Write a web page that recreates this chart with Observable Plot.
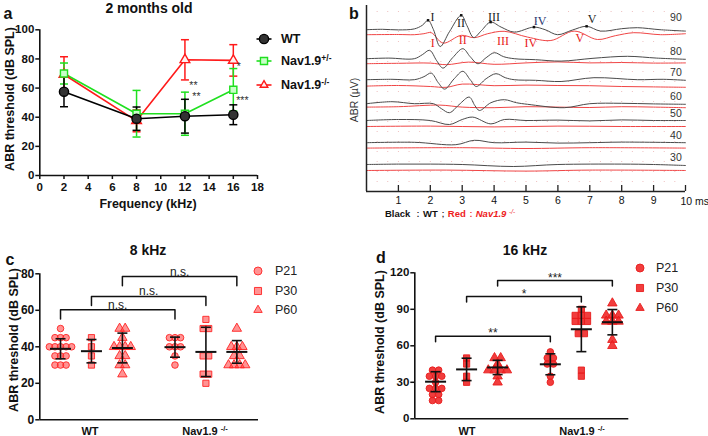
<!DOCTYPE html>
<html>
<head>
<meta charset="utf-8">
<script src="https://cdn.jsdelivr.net/npm/d3@7"></script>
<script src="https://cdn.jsdelivr.net/npm/@observablehq/plot@0.6"></script>
<style>
  html,body{margin:0;padding:0;background:#fff;}
  #fig{position:relative;width:708px;height:436px;overflow:hidden;background:#fff;font-family:"Liberation Sans",Arial,sans-serif;color:#111;}
  #fig svg{position:absolute;overflow:visible;}
  .t{position:absolute;white-space:nowrap;line-height:1;transform:translate(-50%,-50%);}
  .t.l{transform:translate(0,-50%);}
  .t.r{transform:translate(-50%,-50%) rotate(-90deg);}
  sup{font-size:0.68em;vertical-align:0.5em;line-height:0;}
</style>
</head>
<body>
<div id="fig"></div>
<script>
// ================= Panel a : 2 months old =================
const freqA = [2, 8, 12, 16];
const wtMeanA = [57.5, 39, 40.7, 41.7];
const wtSdA = [10.3, 8, 11.6, 6.8];
const hetMeanA = [70, 42.4, 42.4, 58.8];
const hetSdA = [7.2, 16, 14.8, 14.6];
const koMeanA = [69.3, 37.5, 79.4, 79];
const koSdA = [12.2, 7.5, 13.8, 10.8];
const starFreqA = [12.7, 12.95, 16.45, 16.75];
const starValA = [62, 54, 74.5, 51.5];
const starTextA = ["**", "**", "*", "***"];
const xTicksA = [0, 2, 4, 6, 8, 10, 12, 14, 16, 18];
const yTicksA = [0, 20, 40, 60, 80, 100];

// ================= Panel b : ABR waveforms =================
const levelsB = [90, 80, 70, 60, 50, 40, 30];
const wtOffsetB = [8.09, 6.64, 5.59, 4.39, 3.55, 2.44, 1.35];
const koOffsetB = [7.84, 6.39, 5.27, 4.22, 3.25, 2.17, 1.05];
// [ms, µV deflection]
const wtWavesB = [
  [[0,0],[0.5,0.02],[1,-0.01],[1.5,0.04],[1.75,0.22],[1.93,0.47],[2.1,0.0],[2.31,-0.84],[2.6,-0.1],[2.97,0.72],[3.15,0.2],[3.36,-0.39],[3.6,-0.05],[3.89,0.38],[4.22,0.13],[4.63,-0.12],[5.25,0.13],[5.6,0.0],[5.99,-0.25],[6.45,-0.02],[6.9,0.17],[7.34,-0.07],[8.0,0.05],[8.49,0.10],[9.2,0],[10,-0.07]],
  [[0,0],[0.7,0.03],[1.5,0],[1.75,0.2],[1.98,0.42],[2.2,-0.1],[2.4,-0.47],[2.7,0.05],[3.02,0.5],[3.25,0.1],[3.49,-0.25],[3.75,0.05],[4.01,0.3],[4.3,0.1],[4.63,0],[5.3,-0.05],[6.1,-0.12],[7.1,0.02],[8.18,0.12],[9.1,0.03],[10,-0.03]],
  [[0,0],[0.8,0.02],[1.5,0],[1.8,0.15],[2.03,0.33],[2.25,-0.15],[2.45,-0.47],[2.75,0.05],[3.02,0.42],[3.25,0.0],[3.44,-0.34],[3.75,0.05],[4.06,0.3],[4.35,0.1],[4.63,0],[5.3,-0.03],[6.1,-0.09],[7.13,0.1],[8.5,0],[9.3,0.02],[10,-0.03]],
  [[0,0],[0.8,0.1],[1.5,0],[2.1,0],[2.35,-0.25],[2.6,-0.45],[2.9,-0.05],[3.22,0.33],[3.4,-0.1],[3.54,-0.34],[3.9,0.05],[4.32,0.2],[4.7,0.05],[5.05,-0.03],[6.2,-0.2],[7,0],[8,0.02],[9,-0.01],[10,-0.03]],
  [[0,0],[1,0.05],[2,0],[2.6,-0.2],[3.0,0.05],[3.33,0.17],[3.9,-0.17],[4.32,0.05],[5,0],[6,0.02],[7,-0.02],[8,0.03],[9,0.0],[10,0]],
  [[0,0],[1.5,0.02],[2.8,-0.1],[3.38,0.12],[4,0],[5,0.03],[6,-0.02],[7,0.0],[8,0.03],[10,0]],
  [[0,0],[1,0.02],[2,0.02],[3,0],[4.6,-0.1],[6,0],[8,0.02],[9,0],[10,-0.05]]
];
const koWavesB = [
  [[0,0],[1,0.01],[1.5,0],[1.8,0.05],[2.03,0.1],[2.4,-0.42],[2.97,-0.03],[3.38,-0.15],[3.8,0.05],[4.32,0.17],[5.05,-0.12],[5.78,-0.29],[6.51,0.18],[7.24,-0.24],[7.8,-0.05],[8.38,0.10],[9.22,0],[10,0.05]],
  [[0,0],[1,0.02],[2,0.03],[2.5,-0.05],[3.2,0.08],[4,-0.03],[5,0.04],[6,0.09],[7,0.04],[8,0.06],[9,0.03],[10,0.04]],
  [[0,0],[1,0.03],[2,-0.02],[2.5,-0.06],[3,0.1],[4,0.02],[5,0.05],[6,0.03],[7,0.02],[8,-0.02],[9,-0.04],[10,-0.06]],
  [[0,0],[1,0.02],[2.3,0.1],[3,0],[4,-0.03],[5,0.02],[6,0],[7,-0.02],[8,0.02],[9,0],[10,-0.03]],
  [[0,0],[2,0.02],[4,-0.02],[6,0.02],[8,0],[10,0]],
  [[0,0],[3,0.02],[5,-0.02],[7,0.02],[10,0]],
  [[0,0],[2.5,0.02],[5,-0.03],[7,0.02],[10,0]]
];
const peakTimesB = [1.93, 2.97, 3.89, 5.25, 6.9];
const romanB = ["I", "II", "III", "IV", "V"];
const romanWtTB = [2.07, 2.96, 4.0, 5.44, 7.07];
const romanWtVB = [8.72, 8.4, 8.7, 8.5, 8.6];
const romanKoTB = [2.08, 3.02, 4.28, 5.15, 6.69];
const romanKoVB = [7.4, 7.55, 7.5, 7.4, 7.65];
const xTicksB = [1, 2, 3, 4, 5, 6, 7, 8, 9, 10];

// ================= Panels c / d : scatter =================
const groupsCD = ["WT P21", "WT P30", "WT P60", "Nav1.9-/- P21", "Nav1.9-/- P30", "Nav1.9-/- P60"];
const groupPos = [1, 2, 3, 4.7, 5.7, 6.7];
const c8Values = [
  [50,45,45,45,40,40,40,40,40,35,35,35,30,30,30],
  [45,40,35,30],
  [50,50,45,40,40,40,40,35,35,30,30,25],
  [45,45,45,40,40,40,35,30],
  [55,50,50,35,35,25,25,20],
  [50,40,40,40,35,35,30,30,30,30]
];
const c8Mean = [38.9, 37.6, 39.35, 39.8, 37.2, 37.2];
const c8Sd = [5.5, 6.4, 8.15, 5.5, 13.5, 6.2];
const c8BrFrom = [0, 1, 2];
const c8BrTo = [3, 4, 5];
const c8BrTop = [60.3, 67.6, 78.5];
const c8BrText = ["n.s.", "n.s.", "n.s."];
const c8Ticks = [0, 20, 40, 60, 80];

const d16Values = [
  [40,40,35,35,35,30,25,25,25,20,20,15,15],
  [50,45,35,30],
  [50,50,45,40,40,40,40,35,30],
  [55,50,50,45,45,35,30],
  [90,85,85,85,80,80,80,70,70,40,35],
  [95,85,85,85,80,80,80,65,60]
];
const d16Mean = [30.5, 40.6, 42.2, 44.8, 73.6, 79.4];
const d16Sd = [8.2, 9.2, 5.85, 8.6, 18.4, 10.4];
const d16BrFrom = [0, 1, 2];
const d16BrTo = [3, 4, 5];
const d16BrTop = [67.9, 100.5, 113.6];
const d16BrText = ["**", "*", "***"];
const d16Ticks = [0, 30, 60, 90, 120];

const legendCD = ["P21", "P30", "P60"];

// ================= helpers =================
const fig = document.getElementById("fig");
const FONT = '"Liberation Sans", Arial, sans-serif';
function put(svg, left, top) {
  svg.style.left = left + "px"; svg.style.top = top + "px";
  fig.appendChild(svg); return svg;
}
function txt(html, x, y, css = {}, cls = "") {
  const d = document.createElement("div");
  d.className = "t " + cls;
  d.innerHTML = html;
  d.style.left = x + "px"; d.style.top = y + "px";
  Object.assign(d.style, css);
  fig.appendChild(d); return d;
}
const hline = {draw(ctx, size) { const r = Math.sqrt(size / Math.PI); ctx.moveTo(-r, 0); ctx.lineTo(r, 0); }};
const d3Sym = {circle: d3.symbolCircle, square: d3.symbolSquare, triangle: d3.symbolTriangle2 || d3.symbolTriangle};
function icon(cx, cy, type, r, st, lineHalf = 0) {
  const w = 32, h = 18;
  const svg = d3.create("svg").attr("width", w).attr("height", h).attr("viewBox", `0 0 ${w} ${h}`);
  if (lineHalf) svg.append("line").attr("x1", w/2 - lineHalf).attr("x2", w/2 + lineHalf)
    .attr("y1", h/2).attr("y2", h/2).attr("stroke", st.stroke).attr("stroke-width", 1.6);
  svg.append("path").attr("d", d3.symbol(d3Sym[type], Math.PI * r * r)())
    .attr("transform", `translate(${w/2},${h/2})`)
    .attr("fill", st.fill).attr("fill-opacity", st.fo ?? 1)
    .attr("stroke", st.stroke).attr("stroke-width", st.sw ?? 1);
  return put(svg.node(), cx - w/2, cy - h/2);
}

// ================= Panel a =================
const seriesA = [
  {key: "ko",  mean: koMeanA,  sd: koSdA,  stroke: "#ff1a1a", fill: "#fff0f0", symbol: "triangle", r: 3.6},
  {key: "het", mean: hetMeanA, sd: hetSdA, stroke: "#1fe01f", fill: "#c8ffc8", symbol: "square", r: 4.0},
  {key: "wt",  mean: wtMeanA,  sd: wtSdA,  stroke: "#000000", fill: "#333333", symbol: "circle", r: 4.6}
];
const marksA = [];
for (const s of seriesA) {
  const rows = freqA.map((f, i) => ({f, m: s.mean[i], lo: s.mean[i] - s.sd[i], hi: s.mean[i] + s.sd[i]}));
  marksA.push(
    Plot.line(rows, {x: "f", y: "m", stroke: s.stroke, strokeWidth: 1.6}),
    Plot.ruleX(rows, {x: "f", y1: "lo", y2: "hi", stroke: s.stroke, strokeWidth: 1.5}),
    Plot.dot(rows, {x: "f", y: "hi", symbol: hline, r: 4, stroke: s.stroke, fill: "none", strokeWidth: 1.5}),
    Plot.dot(rows, {x: "f", y: "lo", symbol: hline, r: 4, stroke: s.stroke, fill: "none", strokeWidth: 1.5})
  );
}
for (const s of seriesA) {
  const rows = freqA.map((f, i) => ({f, m: s.mean[i]}));
  marksA.push(Plot.dot(rows, {x: "f", y: "m", symbol: s.symbol, r: s.r, fill: s.fill, stroke: s.stroke, strokeWidth: 1.4}));
}
const starsA = starFreqA.map((f, i) => ({f, v: starValA[i], t: starTextA[i]}));
const plotA = Plot.plot({
  width: 260, height: 210, marginLeft: 39.3, marginRight: 3, marginTop: 29.3, marginBottom: 35,
  x: {domain: [0, 18]}, y: {domain: [0, 100]},
  style: {fontFamily: FONT, fontSize: "11.5px", fontWeight: "bold", color: "#111", background: "transparent", overflow: "visible"},
  marks: [
    Plot.axisX({ticks: xTicksA, tickSize: 4, tickPadding: 3, label: null, strokeWidth: 1.5}),
    Plot.axisY({ticks: yTicksA, tickSize: 4, tickPadding: 1.5, label: null, strokeWidth: 1.5}),
    Plot.ruleX([0], {strokeWidth: 1.6}),
    Plot.ruleY([0], {strokeWidth: 1.6}),
    ...marksA,
    Plot.text(starsA, {x: "f", y: "v", text: "t", fill: "#333", fontSize: 10.5, fontWeight: "normal"})
  ]
});
put(plotA, 0, 0);

txt("a", 8, 14, {fontSize: "16px", fontWeight: "bold"});
txt("2 months old", 149, 8, {fontSize: "14px", fontWeight: "bold"});
txt("ABR threshold (dB SPL)", 10, 99, {fontSize: "12.5px", fontWeight: "bold"}, "r");
txt("Frequency (kHz)", 148, 204, {fontSize: "12.5px", fontWeight: "bold"});
// legend a
const legA = [
  {label: "WT", s: seriesA[2], y: 39},
  {label: "Nav1.9<sup>+/-</sup>", s: seriesA[1], y: 61},
  {label: "Nav1.9<sup>-/-</sup>", s: seriesA[0], y: 85}
];
for (const l of legA) {
  icon(264.2, l.y, l.s.symbol, l.s.r, {fill: l.s.fill, stroke: l.s.stroke, sw: 1.4}, 7.5);
  txt(l.label, 281, l.y, {fontSize: "12.5px", fontWeight: "bold"}, "l");
}

// ================= Panel b =================
const traceRows = [];
levelsB.forEach((lv, i) => {
  wtWavesB[i].forEach(([t, v]) => traceRows.push({id: "wt" + lv, g: "wt", t, y: wtOffsetB[i] + v}));
  koWavesB[i].forEach(([t, v]) => traceRows.push({id: "ko" + lv, g: "ko", t, y: koOffsetB[i] + v}));
});
const peaksB = peakTimesB.map(t => {
  const k = wtWavesB[0].find(d => d[0] === t);
  return {t, y: wtOffsetB[0] + k[1]};
});
const romanWt = romanB.map((s, i) => ({s, t: romanWtTB[i], y: romanWtVB[i]}));
const romanKo = romanB.map((s, i) => ({s, t: romanKoTB[i], y: romanKoVB[i]}));
const levelLab = levelsB.map((lv, i) => ({lv, y: wtOffsetB[i]}));
const gridB = d3.cross(d3.range(1/3, 10, 1/3), d3.range(0.5, 9.3, 0.5)).map(([t, y]) => ({t, y}));
const plotB = Plot.plot({
  width: 348, height: 210, marginLeft: 6, marginRight: 23, marginTop: 5, marginBottom: 19,
  x: {domain: [0, 10]}, y: {domain: [0, 9.3], axis: null},
  style: {fontFamily: FONT, fontSize: "10.5px", color: "#111", background: "transparent", overflow: "visible"},
  marks: [
    Plot.dot(gridB, {x: "t", y: "y", r: 0.55, fill: "#e6a0a0", fillOpacity: 0.8}),
    Plot.line(traceRows.filter(d => d.g === "ko"), {x: "t", y: "y", z: "id", stroke: "#f04545", strokeWidth: 1, curve: "catmull-rom"}),
    Plot.line(traceRows.filter(d => d.g === "wt"), {x: "t", y: "y", z: "id", stroke: "#4a4a4a", strokeWidth: 1, curve: "catmull-rom"}),
    Plot.dot(peaksB, {x: "t", y: "y", symbol: "square", r: 1.4, fill: "#111"}),
    Plot.text(romanWt, {x: "t", y: "y", text: "s", fill: (d) => d.s === "IV" ? "#2a3470" : "#222", fontFamily: '"Liberation Serif", "DejaVu Serif", serif', fontSize: 12}),
    Plot.text(romanKo, {x: "t", y: "y", text: "s", fill: "#e82020", fontFamily: '"Liberation Serif", "DejaVu Serif", serif', fontSize: 12}),
    Plot.text(levelLab.slice(0, 1), {x: 9.7, y: "y", text: "lv", dy: -12, fontSize: 10.5, fill: "#333"}),
    Plot.text(levelLab.slice(1), {x: 9.7, y: "y", text: "lv", dy: -7, fontSize: 10.5, fill: "#333"}),
    Plot.ruleX([0], {stroke: "#222", strokeWidth: 1.5}),
    Plot.ruleY([0], {stroke: "#222", strokeWidth: 1.5}),
    Plot.ruleX(xTicksB, {x: (d) => d, y1: 0, y2: 0.3, stroke: "#222", strokeWidth: 1.3}),
    Plot.axisX({ticks: xTicksB.slice(0, -1), tickSize: 0, tickPadding: 5, label: null}),
    Plot.text(xTicksB.slice(-1), {x: (d) => d, y: 0, dy: 10, dx: -5, text: (d) => d + " ms", textAnchor: "start", fontSize: 10.5})
  ]
});
put(plotB, 360, 0);
txt("b", 354, 14, {fontSize: "16px", fontWeight: "bold"});
txt("ABR (µV)", 354, 100, {fontSize: "10.5px", color: "#333"}, "r");
txt('<b>Black</b> ：<b>WT</b>；<span style="color:#ee1c1c"><b>Red</b>：<b><i>Nav1.9</i></b> <i><sup>-/-</sup></i></span>', 385, 214, {fontSize: "9.5px"}, "l");

// ================= Panels c / d =================
const SYM = ["circle", "square", "triangle"];
const SYMR = {circle: 3.3, square: 3.5, triangle: 3.5};
function scatter(o) {
  const pts = [];
  o.values.forEach((vals, gi) => {
    const n = d3.rollup(vals, v => v.length, v => v);
    const seen = new Map();
    vals.forEach(v => {
      const j = seen.get(v) || 0; seen.set(v, j + 1);
      pts.push({gi, v, x: groupPos[gi] + (j - (n.get(v) - 1) / 2) * o.spread, s: SYM[gi % 3]});
    });
  });
  const stats = o.means.map((m, i) => ({x: groupPos[i], m, lo: m - o.sds[i], hi: m + o.sds[i]}));
  const br = o.brFrom.map((a, i) => ({a: groupPos[a], b: groupPos[o.brTo[i]], y: o.brTop[i], t: o.brText[i]}));
  const brPath = br.flatMap((d, i) => [
    {i, x: d.a, y: d.y - o.drop}, {i, x: d.a, y: d.y}, {i, x: d.b, y: d.y}, {i, x: d.b, y: d.y - o.drop}]);
  const brLab = br.map(d => ({x: (d.a + d.b) / 2, y: d.y, t: d.t}));
  return Plot.plot({
    width: o.width, height: o.height, marginLeft: o.mL, marginRight: o.mR, marginTop: o.mT, marginBottom: o.mB,
    x: {domain: o.xDom, axis: null}, y: {domain: o.yDom},
    style: {fontFamily: FONT, fontSize: o.tickFont, fontWeight: "bold", color: "#111", background: "transparent", overflow: "visible"},
    marks: [
      Plot.axisY({ticks: o.ticks, tickSize: 4, tickPadding: 1.5, label: null, strokeWidth: 1.5}),
      Plot.ruleX([o.xDom[0]], {strokeWidth: 1.6}),
      Plot.ruleY([o.yDom[0]], {strokeWidth: 1.6}),
      ...SYM.map(s => Plot.dot(pts.filter(p => p.s === s), {x: "x", y: "v", symbol: s, r: SYMR[s],
        fill: o.fill, fillOpacity: o.fo, stroke: o.stroke, strokeWidth: 0.9})),
      Plot.ruleX(stats, {x: "x", y1: "lo", y2: "hi", stroke: "#111", strokeWidth: 1.6}),
      Plot.dot(stats, {x: "x", y: "hi", symbol: hline, r: 5, stroke: "#111", fill: "none", strokeWidth: 1.6}),
      Plot.dot(stats, {x: "x", y: "lo", symbol: hline, r: 5, stroke: "#111", fill: "none", strokeWidth: 1.6}),
      Plot.dot(stats, {x: "x", y: "m", symbol: hline, r: 10.5, stroke: "#111", fill: "none", strokeWidth: 2}),
      Plot.line(brPath, {x: "x", y: "y", z: "i", stroke: "#111", strokeWidth: 1.5}),
      Plot.text(brLab, {x: "x", y: "y", text: "t", lineAnchor: "bottom", dy: o.labDy, fontSize: 12, fontWeight: "normal", fill: "#222"})
    ]
  });
}

const plotC = scatter({
  width: 270, height: 186, mL: 39.3, mR: 12, mT: 23.3, mB: 16.7,
  xDom: [0.33, 7.4], yDom: [0, 80], ticks: c8Ticks, tickFont: "12px",
  values: c8Values, means: c8Mean, sds: c8Sd, spread: 0.18,
  brFrom: c8BrFrom, brTo: c8BrTo, brTop: c8BrTop, brText: c8BrText, drop: 5, labDy: -1,
  fill: "#ff3b3b", fo: 0.55, stroke: "#ff2424"
});
put(plotC, 0, 250);
txt("c", 10, 260, {fontSize: "16px", fontWeight: "bold"});
txt("8 kHz", 148, 250, {fontSize: "14px", fontWeight: "bold"});
txt("ABR threshold (dB SPL)", 13.5, 340, {fontSize: "12.5px", fontWeight: "bold"}, "r");
txt("WT", 90, 431, {fontSize: "11px", fontWeight: "bold"});
txt("Nav1.9 <sup>-/-</sup>", 205, 431, {fontSize: "11px", fontWeight: "bold"});
legendCD.forEach((lab, i) => {
  icon(258.3, 271 + i * 19.5, SYM[i], 4, {fill: "#ff3b3b", fo: 0.55, stroke: "#ff2424", sw: 0.9});
  txt(lab, 275, 271 + i * 19.5, {fontSize: "12.5px", color: "#222"}, "l");
});

const plotD = scatter({
  width: 268, height: 186, mL: 44.3, mR: 9.7, mT: 22.3, mB: 17.7,
  xDom: [0.33, 7.23], yDom: [0, 120], ticks: d16Ticks, tickFont: "11.5px",
  values: d16Values, means: d16Mean, sds: d16Sd, spread: 0.2,
  brFrom: d16BrFrom, brTo: d16BrTo, brTop: d16BrTop, brText: d16BrText, drop: 4.5, labDy: 1,
  fill: "#f02828", fo: 0.9, stroke: "#e81c1c"
});
put(plotD, 370, 250);
txt("d", 381, 258, {fontSize: "16px", fontWeight: "bold"});
txt("16 kHz", 525, 250, {fontSize: "14px", fontWeight: "bold"});
txt("ABR threshold (dB SPL)", 380, 342, {fontSize: "12.5px", fontWeight: "bold"}, "r");
txt("WT", 467, 431, {fontSize: "11px", fontWeight: "bold"});
txt("Nav1.9 <sup>-/-</sup>", 582, 431, {fontSize: "11px", fontWeight: "bold"});
legendCD.forEach((lab, i) => {
  icon(640, 268.3 + i * 20, SYM[i], 4, {fill: "#f02828", fo: 0.9, stroke: "#e81c1c", sw: 0.9});
  txt(lab, 656, 268.3 + i * 20, {fontSize: "12.5px", color: "#222"}, "l");
});
</script>
</body>
</html>
